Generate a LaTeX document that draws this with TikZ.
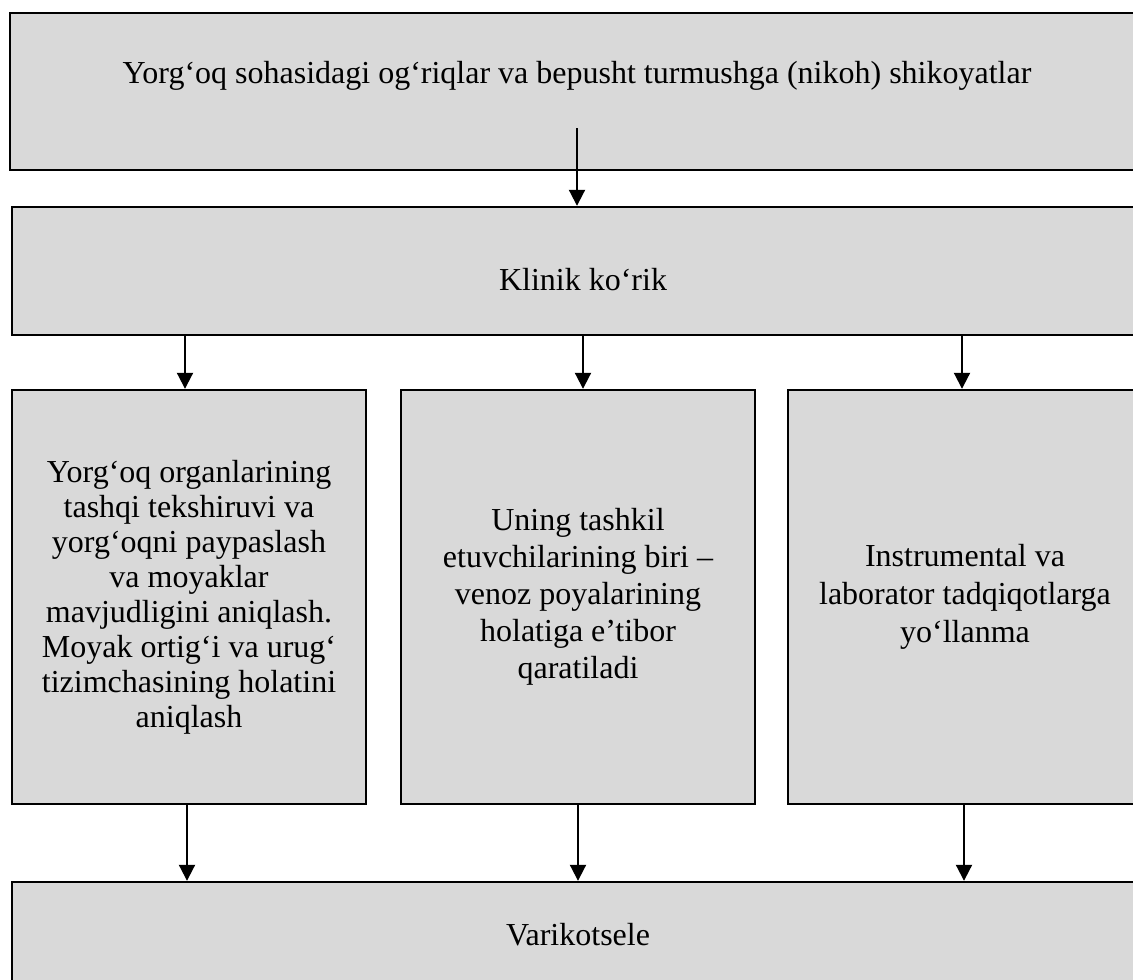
\documentclass[tikz,border=0pt]{standalone}
\usepackage{fontspec}
\setmainfont{Liberation Serif}
\usetikzlibrary{arrows.meta}
\definecolor{boxgray}{RGB}{217,217,217}
\begin{document}
\begin{tikzpicture}[x=1pt,y=-1pt,
  box/.style={draw=black, line width=2.4pt, fill=boxgray, rectangle, inner sep=0pt, anchor=center},
  colbox/.style={box, minimum width=354pt, minimum height=414pt, align=center},
  txt/.style={inner sep=0pt, font=\fontsize{32}{35}\selectfont},
  arr/.style={line width=2pt, -{Triangle[width=16pt,length=16pt]}}]
\useasboundingbox (0,0) rectangle (1133,980);
\clip (0,0) rectangle (1133,980);
\fill[white] (0,0) rectangle (1133,980);
% boxes
\node[box, minimum width=1140pt, minimum height=157pt] (top) at (580,91.5) {};
\node[box, minimum width=1138pt, minimum height=128pt] (k) at (581,271) {};
\node[colbox, font=\fontsize{32}{35}\selectfont] (A) at (189,597) {Yorg‘oq organlarining\\tashqi tekshiruvi va\\yorg‘oqni paypaslash\\va moyaklar\\mavjudligini aniqlash.\\Moyak ortig‘i va urug‘\\tizimchasining holatini\\aniqlash};
\node[colbox, font=\fontsize{32}{37}\selectfont] (B) at (578,597) {Uning tashkil\\etuvchilarining biri –\\venoz poyalarining\\holatiga e’tibor\\qaratiladi};
\node[colbox, font=\fontsize{32}{38}\selectfont] (C) at (965,597) {Instrumental va\\laborator tadqiqotlarga\\yo‘llanma};
\node[box, minimum width=1138pt, minimum height=118pt] (V) at (581,941) {};
% texts
\node[txt, anchor=base] (t1) at (577,83) {Yorg‘oq sohasidagi og‘riqlar va bepusht turmushga (nikoh) shikoyatlar};
\node[txt, anchor=base] (t2) at (583,290) {Klinik ko‘rik};
\node[txt, anchor=base] (t3) at (578,945) {Varikotsele};
% arrows
\coordinate (a0) at (577,128);
\draw[arr] (a0) -- (a0 |- k.north);
\draw[arr] ([xshift=-4pt]A.north |- k.south) -- ([xshift=-4pt]A.north);
\draw[arr] ([xshift=5pt]B.north |- k.south) -- ([xshift=5pt]B.north);
\draw[arr] ([xshift=-3pt]C.north |- k.south) -- ([xshift=-3pt]C.north);
\draw[arr] ([xshift=-2pt]A.south) -- ([xshift=-2pt]A.south |- V.north);
\draw[arr] (B.south) -- (B.south |- V.north);
\draw[arr] ([xshift=-1pt]C.south) -- ([xshift=-1pt]C.south |- V.north);
\end{tikzpicture}
\end{document}
